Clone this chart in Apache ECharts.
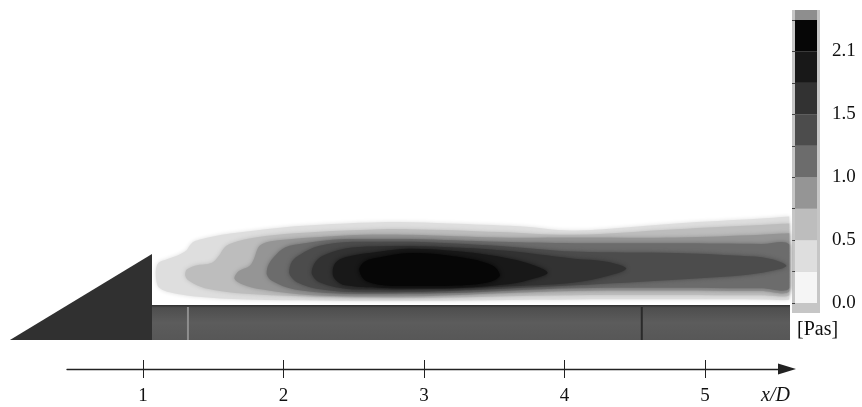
<!DOCTYPE html>
<html>
<head>
<meta charset="utf-8">
<script src="https://cdn.jsdelivr.net/npm/echarts@6/dist/echarts.min.js"></script>
<style>
html, body { margin: 0; padding: 0; background: #fff; }
#chart { width: 862px; height: 407px; }
</style>
</head>
<body>
<div id="chart"></div>
<script>
// x轴刻度
var xTicks = [1, 2, 3, 4, 5];
// 色标标签（每个色带边界一个，空串不显示）
var cbLabels = ['0.0', '', '0.5', '', '1.0', '', '1.5', '', '2.1', ''];
// 色标单位
var cbUnit = '[Pas]';
// 色带颜色（由低到高）
var cbColors = ['#f5f5f5', '#dedede', '#bdbdbd', '#959595', '#6c6c6c', '#4c4c4c', '#323232', '#181818', '#060606'];

// 等值区边界 [x/D, y/D]，从外到内
var level1 = [[1.10,0.15],[1.09,0.23],[1.11,0.30],[1.18,0.33],[1.26,0.36],[1.31,0.39],[1.33,0.42],[1.36,0.45],[1.42,0.47],[1.56,0.50],[1.80,0.53],[2.08,0.56],[2.44,0.58],[2.83,0.59],[3.18,0.58],[3.68,0.56],[4.07,0.53],[4.79,0.58],[5.40,0.615],[5.60,0.63],[5.60,0.04],[5.40,0.04],[4.07,0.04],[2.83,0.03],[1.73,0.04],[1.37,0.06],[1.19,0.09],[1.12,0.12]];
var level2 = [[1.30,0.21],[1.31,0.25],[1.37,0.28],[1.49,0.30],[1.54,0.35],[1.58,0.41],[1.63,0.44],[1.80,0.48],[2.08,0.51],[2.44,0.53],[2.90,0.54],[3.54,0.52],[4.07,0.50],[4.79,0.54],[5.40,0.57],[5.60,0.58],[5.60,0.07],[5.40,0.07],[4.07,0.07],[2.83,0.05],[2.20,0.06],[1.73,0.08],[1.44,0.12],[1.33,0.17]];
var level3 = [[1.65,0.19],[1.68,0.24],[1.76,0.28],[1.79,0.33],[1.82,0.41],[1.86,0.44],[1.96,0.46],[2.20,0.48],[2.56,0.50],[2.90,0.50],[3.54,0.48],[4.07,0.48],[4.79,0.48],[5.40,0.50],[5.60,0.51],[5.60,0.10],[5.40,0.10],[4.07,0.10],[2.83,0.06],[2.20,0.07],[1.85,0.11],[1.70,0.15]];
var level4 = [[1.88,0.22],[1.89,0.28],[1.93,0.34],[2.01,0.41],[2.15,0.44],[2.44,0.47],[2.90,0.47],[3.54,0.45],[4.07,0.44],[4.79,0.44],[5.40,0.435],[5.60,0.43],[5.60,0.12],[5.40,0.12],[4.07,0.12],[3.18,0.085],[2.44,0.08],[2.08,0.11],[1.92,0.17]];
var level5 = [[2.04,0.23],[2.06,0.31],[2.12,0.36],[2.25,0.42],[2.49,0.45],[2.90,0.45],[3.54,0.42],[4.07,0.38],[4.79,0.37],[5.25,0.35],[5.46,0.33],[5.58,0.28],[5.46,0.24],[5.25,0.21],[4.79,0.18],[4.07,0.14],[3.18,0.10],[2.56,0.09],[2.27,0.11],[2.10,0.16]];
var level6 = [[2.20,0.23],[2.23,0.31],[2.30,0.36],[2.49,0.41],[2.90,0.42],[3.54,0.39],[4.07,0.33],[4.29,0.31],[4.44,0.26],[4.32,0.21],[4.07,0.16],[3.54,0.13],[2.83,0.11],[2.49,0.11],[2.26,0.16]];
var level7 = [[2.35,0.23],[2.37,0.30],[2.44,0.34],[2.69,0.38],[2.90,0.40],[3.26,0.38],[3.61,0.33],[3.79,0.28],[3.88,0.23],[3.79,0.19],[3.61,0.15],[3.18,0.12],[2.78,0.12],[2.44,0.14],[2.37,0.18]];
var level8 = [[2.54,0.25],[2.58,0.31],[2.69,0.34],[2.90,0.37],[3.26,0.34],[3.49,0.28],[3.54,0.21],[3.45,0.16],[3.14,0.135],[2.78,0.135],[2.59,0.17]];
var levels = [level1, level2, level3, level4, level5, level6, level7, level8];

// 楔形体与壁面
var wedge = [[0.053, -0.249], [1.064, 0.363], [1.064, -0.249]];
var wallX = [1.064, 5.605];
var wallY = [0, -0.249];
// 壁面接缝位置
var joints = [1.32, 4.55];

function toPx(api, pts) {
    var out = [];
    for (var i = 0; i < pts.length; i++) {
        out.push(api.coord(pts[i]));
    }
    return out;
}

// 点集包围盒（平滑时不超出）
function bbox(pts) {
    var min = [Infinity, Infinity], max = [-Infinity, -Infinity];
    for (var i = 0; i < pts.length; i++) {
        min[0] = Math.min(min[0], pts[i][0]);
        min[1] = Math.min(min[1], pts[i][1]);
        max[0] = Math.max(max[0], pts[i][0]);
        max[1] = Math.max(max[1], pts[i][1]);
    }
    return [min, max];
}

// 画等值区
function renderLevel(params, api) {
    var idx = api.value(0);
    var c = cbColors[idx + 1];
    var pts = toPx(api, levels[idx]);
    return {
        type: 'polygon',
        shape: { points: pts, smooth: 0.35, smoothConstraint: bbox(pts) },
        style: { fill: c, shadowBlur: 4, shadowColor: c }
    };
}

// 画楔形和壁面
function renderBody(params, api) {
    var tl = api.coord([wallX[0], wallY[0]]);
    var br = api.coord([wallX[1], wallY[1]]);
    var children = [{
        type: 'rect',
        shape: { x: tl[0], y: tl[1], width: br[0] - tl[0], height: br[1] - tl[1] },
        style: {
            fill: {
                type: 'linear', x: 0, y: 0, x2: 0, y2: 1,
                colorStops: [
                    { offset: 0, color: '#2e2e2e' },
                    { offset: 0.08, color: '#4e4e4e' },
                    { offset: 0.5, color: '#5c5c5c' },
                    { offset: 1, color: '#575757' }
                ]
            }
        }
    }, {
        type: 'polygon',
        shape: { points: toPx(api, wedge) },
        style: { fill: '#303030' }
    }];
    for (var i = 0; i < joints.length; i++) {
        var p = api.coord([joints[i], wallY[0]]);
        children.push({
            type: 'line',
            shape: { x1: p[0], y1: tl[1] + 2, x2: p[0], y2: br[1] },
            style: { stroke: i == 0 ? '#8e8e8e' : '#2a2a2a', lineWidth: 2 }
        });
    }
    return { type: 'group', children: children };
}

// 画色标
function renderBar(params, api) {
    var i = api.value(0);
    var a = api.coord([0, i + 1]);
    var b = api.coord([1, i]);
    return {
        type: 'rect',
        shape: { x: a[0], y: a[1], width: b[0] - a[0], height: b[1] - a[1] },
        style: { fill: cbColors[i] }
    };
}

var levelData = [];
for (var i = 0; i < levels.length; i++) levelData.push([i]);
var barData = [];
for (var j = 0; j < cbColors.length; j++) barData.push([j]);

var serifFont = 'Liberation Serif';

var myChart = echarts.init(document.getElementById('chart'));
var option = {
    animation: false,
    backgroundColor: '#fff',
    graphic: [
        { type: 'rect', shape: { x: 792, y: 10, width: 28, height: 303 }, style: { fill: '#c6c6c6' }, z: -1 },
        { type: 'rect', shape: { x: 795, y: 10, width: 22, height: 10 }, style: { fill: '#8e8e8e' }, z: -1 },
        {
            type: 'text', x: 797, y: 320,
            style: { text: cbUnit, fontFamily: serifFont, fontSize: 20, fill: '#111' }
        }
    ],
    grid: [
        { left: 67, right: 75, top: 10, bottom: 38, outerBoundsMode: 'none' },
        { left: 795, top: 20, width: 22, height: 283, outerBoundsMode: 'none' }
    ],
    xAxis: [{
        gridIndex: 0,
        type: 'value',
        min: 0.4591,
        max: 5.5836,
        position: 'bottom',
        name: 'x/D',
        nameLocation: 'end',
        nameGap: 3,
        nameMoveOverlap: false,
        nameTextStyle: {
            fontFamily: serifFont, fontStyle: 'italic', fontSize: 20, color: '#111',
            align: 'right', verticalAlign: 'top', padding: [17, 0, 0, 0]
        },
        axisLine: {
            onZero: false,
            symbol: ['none', 'triangle'],
            symbolSize: [11, 18],
            lineStyle: { color: '#222', width: 1.3 }
        },
        axisTick: { length: 9, customValues: xTicks, lineStyle: { color: '#222' } },
        axisLabel: {
            customValues: xTicks,
            margin: 18,
            fontFamily: serifFont, fontSize: 19, color: '#111'
        },
        splitLine: { show: false }
    }, {
        gridIndex: 0,
        type: 'value',
        min: 0.4591,
        max: 5.5836,
        position: 'bottom',
        offset: 0,
        axisLine: { show: false, onZero: false },
        axisTick: { inside: true, length: 9, customValues: xTicks, lineStyle: { color: '#222' } },
        axisLabel: { show: false },
        splitLine: { show: false }
    }, {
        gridIndex: 1,
        type: 'value',
        min: 0,
        max: 1,
        show: false
    }],
    yAxis: [{
        gridIndex: 0,
        type: 'value',
        min: -0.4555,
        max: 2.0996,
        show: false
    }, {
        gridIndex: 1,
        type: 'value',
        min: 0,
        max: 9,
        interval: 1,
        position: 'right',
        axisLine: { show: false },
        axisTick: { inside: true, length: 3, lineStyle: { color: '#444' } },
        axisLabel: {
            margin: 15,
            fontFamily: serifFont, fontSize: 19, color: '#111',
            formatter: function (v) { return cbLabels[v] || ''; }
        },
        splitLine: { show: false }
    }],
    series: [{
        name: 'body',
        type: 'custom',
        xAxisIndex: 0,
        yAxisIndex: 0,
        clip: false,
        silent: true,
        renderItem: renderBody,
        data: [[0]],
        z: 3
    }, {
        name: 'levels',
        type: 'custom',
        xAxisIndex: 0,
        yAxisIndex: 0,
        clip: false,
        silent: true,
        renderItem: renderLevel,
        data: levelData,
        z: 2
    }, {
        name: 'colorbar',
        type: 'custom',
        xAxisIndex: 2,
        yAxisIndex: 1,
        silent: true,
        renderItem: renderBar,
        data: barData
    }]
};
myChart.setOption(option);
</script>
</body>
</html>
